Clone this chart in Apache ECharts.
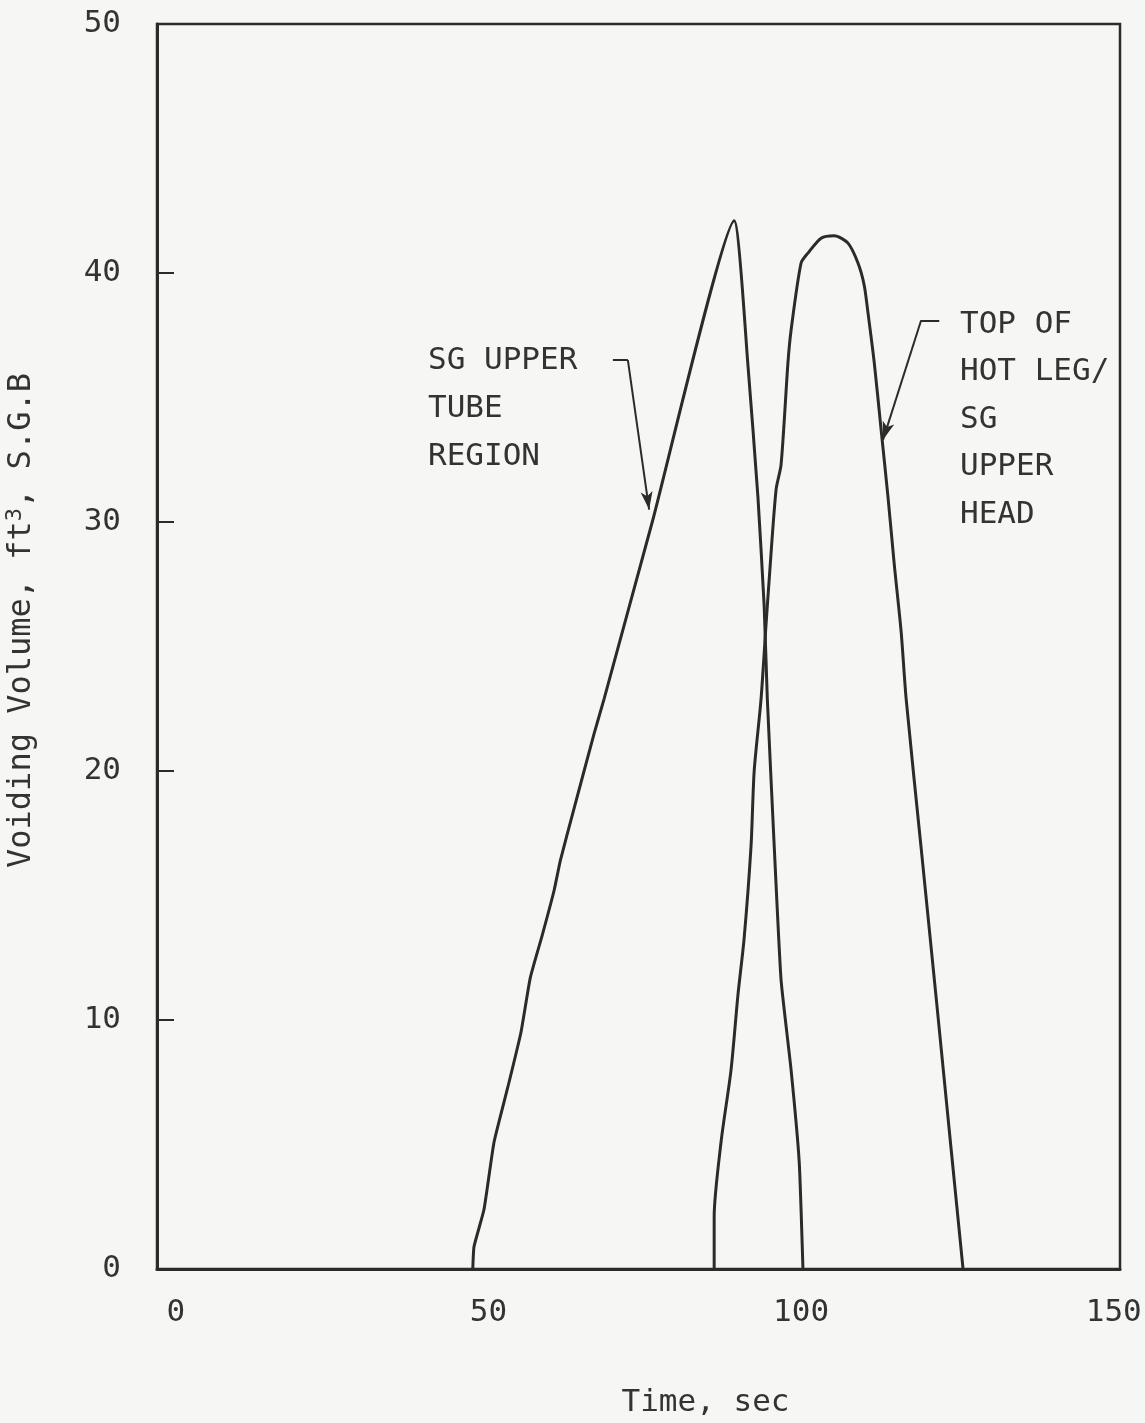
<!DOCTYPE html>
<html>
<head>
<meta charset="utf-8">
<script src="https://cdn.jsdelivr.net/npm/echarts@6/dist/echarts.min.js"></script>
<style>
  html, body { margin: 0; padding: 0; background: #f6f6f4; }
  #main { width: 1145px; height: 1423px; }
</style>
</head>
<body>
<div id="main"></div>
<script>
// SG upper tube region
const tubeTime = [47.5, 47.7, 49.3, 50.9, 53.1, 55.2, 56.7, 58.6, 60.5, 61.5, 63.7, 66.9, 68.5, 76.2, 89.3, 91.5, 93.1, 94.1, 94.6, 95.7, 96.8, 98.4, 99.7, 100.3];
const tubeVol = [0, 0.9, 2.4, 5.1, 7.3, 9.5, 11.7, 13.4, 15.2, 16.4, 18.5, 21.5, 22.9, 30.0, 42.1, 36.3, 31.0, 26.6, 22.9, 17.0, 11.6, 8.0, 4.3, 0];

// top of hot leg / SG upper head
const headTime = [86.1, 86.1, 87.2, 88.8, 89.9, 90.9, 92.0, 92.5, 93.6, 94.4, 94.9, 96.0, 96.8, 97.9, 98.4, 100.0, 101.1, 103.2, 105.3, 107.5, 109.1, 110.1, 110.7, 111.7, 112.8, 113.9, 114.9, 116.0, 116.8, 119.2, 121.6, 124.0, 125.9];
const headVol = [0, 2.1, 5.1, 8.0, 11.0, 13.3, 17.0, 20.0, 22.9, 25.9, 27.7, 31.3, 32.3, 36.4, 37.7, 40.4, 40.8, 41.4, 41.5, 41.2, 40.4, 39.5, 38.4, 36.4, 33.7, 31.0, 28.3, 25.6, 22.9, 16.9, 10.9, 4.8, 0];

const xTicks = [0, 50, 100, 150];

// leader lines for the two labels: [start, bend, arrow tip]
const tubeLeader = [[69.9, 36.5], [72.3, 36.5], [75.7, 30.5]];
const headLeader = [[122.1, 38.1], [119.2, 38.1], [113.1, 33.3]];

const ink = "#2b2b2b";
const font = "DejaVu Sans Mono";

function pairs(xs, ys) {
  return xs.map((x, i) => [x, ys[i]]);
}

function leader(pts) {
  return [
    [{ coord: pts[0], symbol: "none" }, { coord: pts[1], symbol: "none" }],
    [{ coord: pts[1], symbol: "none" }, { coord: pts[2], symbol: "arrow", symbolSize: [9, 18] }],
  ];
}

const chart = echarts.init(document.getElementById("main"));

const option = {
  backgroundColor: "#f6f6f4",
  animation: false,
  grid: {
    left: 157,
    right: 25,
    top: 24,
    bottom: 154,
    outerBoundsMode: "none",
    containLabel: false,
    show: true,
    borderColor: ink,
    borderWidth: 2.5,
  },
  xAxis: {
    type: "value",
    min: -3,
    max: 151,
    name: "Time, sec",
    nameLocation: "middle",
    nameGap: 118,
    nameTextStyle: { fontFamily: font, fontSize: 31, color: "#333", padding: [0, 0, 0, 134] },
    axisLine: { show: true, onZero: false, lineStyle: { color: ink, width: 3 } },
    axisTick: { show: false },
    splitLine: { show: false },
    axisLabel: {
      customValues: xTicks,
      margin: 28,
      fontFamily: font,
      fontSize: 31,
      color: "#333",
    },
  },
  yAxis: {
    type: "value",
    min: 0,
    max: 50,
    interval: 10,
    name: "Voiding Volume, ft{sup|3}, S.G.B",
    nameLocation: "middle",
    nameRotate: 90,
    nameGap: 117,
    nameTextStyle: {
      fontFamily: font,
      fontSize: 32,
      color: "#333",
      padding: [0, 0, 0, 52],
      rich: { sup: { fontFamily: font, fontSize: 22, color: "#333", verticalAlign: "top", padding: [0, 0, 14, 0] } },
    },
    axisLine: { show: true, onZero: false, lineStyle: { color: ink, width: 3 } },
    axisTick: { show: true, inside: true, length: 17, lineStyle: { color: ink, width: 2 } },
    splitLine: { show: false },
    axisLabel: { margin: 36, fontFamily: font, fontSize: 31, color: "#333" },
  },
  series: [
    {
      name: "SG upper tube region",
      type: "line",
      data: pairs(tubeTime, tubeVol),
      showSymbol: false,
      smooth: 0.15,
      lineStyle: { color: ink, width: 3 },
      markLine: {
        silent: true,
        label: { show: false },
        lineStyle: { color: ink, width: 2, type: "solid" },
        data: leader(tubeLeader),
      },
    },
    {
      name: "Top of hot leg / SG upper head",
      type: "line",
      data: pairs(headTime, headVol),
      showSymbol: false,
      smooth: 0.25,
      lineStyle: { color: ink, width: 3 },
      markLine: {
        silent: true,
        label: { show: false },
        lineStyle: { color: ink, width: 2, type: "solid" },
        data: leader(headLeader),
      },
    },
  ],
  graphic: [
    {
      type: "text",
      left: 428,
      top: 337,
      style: {
        text: "SG UPPER\nTUBE\nREGION",
        font: "31px " + font,
        lineHeight: 48,
        fill: "#333",
      },
    },
    {
      type: "text",
      left: 960,
      top: 301,
      style: {
        text: "TOP OF\nHOT LEG/\nSG\nUPPER\nHEAD",
        font: "31px " + font,
        lineHeight: 47.5,
        fill: "#333",
      },
    },
  ],
};

chart.setOption(option);
</script>
</body>
</html>
